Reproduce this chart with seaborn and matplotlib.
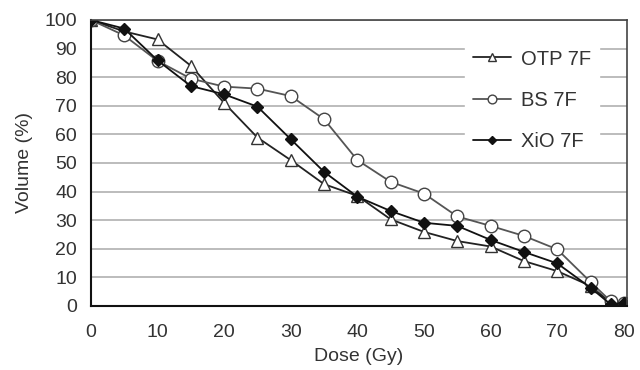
import numpy as np
import pandas as pd
import seaborn as sns
import matplotlib.pyplot as plt

# dose points (Gy)
dose = [0, 5, 10, 15, 20, 25, 30, 35, 40, 45, 50, 55, 60, 65, 70, 75, 78, 80]

# volume (%) per plan
otp_7f = [100, 96, 93.2, 84, 71, 58.9, 51, 42.6, 38.5, 30.3, 25.9, 22.7, 20.8, 15.7, 12.2, 7, 1.2, 1]
bs_7f = [100, 94.6, 85.7, 79.5, 76.7, 76, 73.4, 65.3, 51, 43.4, 39.3, 31.3, 28, 24.5, 19.8, 8.4, 1.7, 1]
xio_7f = [100, 97, 85.9, 76.9, 74, 69.7, 58.3, 46.9, 38.2, 33.2, 29.1, 28, 23.1, 18.9, 14.9, 6.4, 0.6, 1]

series = ["OTP 7F", "BS 7F", "XiO 7F"]

df = pd.DataFrame({
    "dose": dose * 3,
    "volume": otp_7f + bs_7f + xio_7f,
    "plan": [s for s in series for _ in dose],
})

sns.set_style("white")
plt.rcParams["font.family"] = ["Liberation Sans", "DejaVu Sans"]

fig, ax = plt.subplots(figsize=(6.4, 3.7), dpi=100)
fig.subplots_adjust(left=0.142, right=0.98, top=0.946, bottom=0.173)

styles = {
    "OTP 7F": dict(marker="^", color="#222222", markerfacecolor="white", markeredgecolor="#333333", markersize=8),
    "BS 7F": dict(marker="o", color="#555555", markerfacecolor="white", markeredgecolor="#444444", markersize=9),
    "XiO 7F": dict(marker="D", color="#111111", markerfacecolor="#111111", markeredgecolor="#111111", markersize=6),
}

for name in series:
    sns.lineplot(data=df[df["plan"] == name], x="dose", y="volume", ax=ax,
                 label=name, linewidth=1.3, markeredgewidth=1.0, **styles[name])

ax.set_xlim(0, 80.5)
ax.set_ylim(0, 100)
ax.set_xticks(range(0, 81, 10))
ax.set_yticks(range(0, 101, 10))
ax.yaxis.grid(True, color="#b0b0b0", linewidth=1.2)
ax.set_axisbelow(True)

for side in ["left", "bottom"]:
    ax.spines[side].set_color("#111111")
    ax.spines[side].set_linewidth(1.5)
for side in ["top", "right"]:
    ax.spines[side].set_color("#444444")
    ax.spines[side].set_linewidth(1.2)

ax.tick_params(direction="inout", length=8, width=1.3, colors="#111111",
               labelsize=14, labelcolor="#333333")
ax.tick_params(axis="y", pad=6)
ax.tick_params(axis="x", pad=9)
ax.set_xlabel("Dose (Gy)", fontsize=14, color="#333333", labelpad=5)
ax.set_ylabel("Volume (%)", fontsize=14, color="#333333", labelpad=8)

leg = ax.legend(loc="upper left", bbox_to_anchor=(0.678, 0.96), frameon=True,
                fontsize=14.5, handlelength=1.9, labelspacing=1.1,
                borderpad=0.4, handletextpad=0.5, markerscale=0.7,
                fancybox=False)
leg.get_frame().set_edgecolor("white")
leg.get_frame().set_facecolor("white")
leg.get_frame().set_alpha(1)
for t in leg.get_texts():
    t.set_color("#333333")

fig.savefig("out.png", dpi=100)
